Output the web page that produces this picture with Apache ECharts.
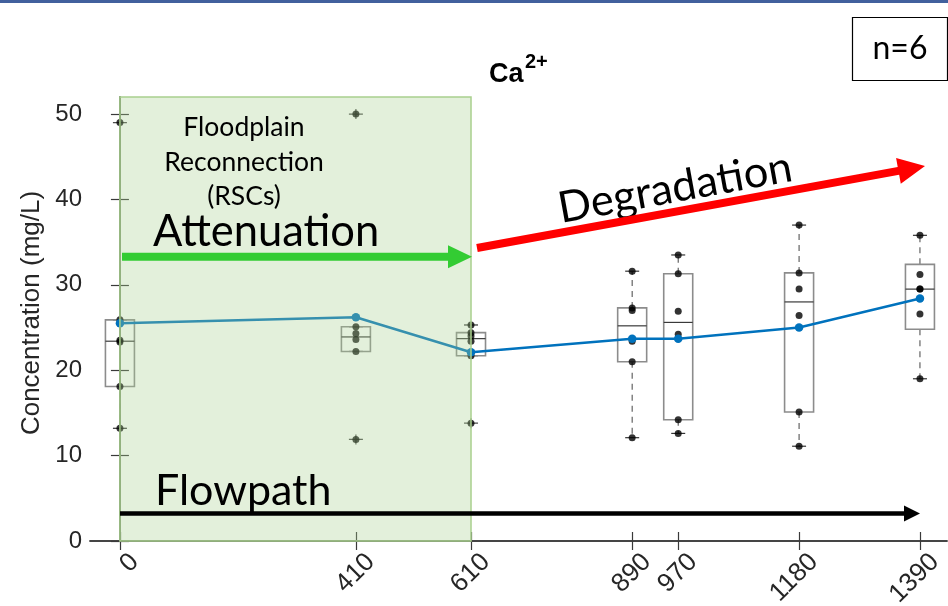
<!DOCTYPE html>
<html>
<head>
<meta charset="utf-8">
<title>Ca2+ along the flowpath</title>
<script src="https://cdn.jsdelivr.net/npm/echarts@6/dist/echarts.min.js"></script>
<style>
  html, body { margin: 0; padding: 0; background: #ffffff; }
  #chart { width: 948px; height: 606px; }
</style>
</head>
<body>
<div id="chart"></div>
<script>
// Sampling stations along the flowpath (m)
const stations = [0, 410, 610, 890, 970, 1180, 1390];
const stationLabels = ['0', '410', '610', '890', '970', '1180', '1390'];

// Box statistics per station (mg/L)
const whiskerLow  = [13.2, 22.2, 21.7, 12.1, 12.6, 11.1, 19.0];
const quartile1   = [18.1, 22.2, 21.7, 21.0, 14.2, 15.1, 24.8];
const medians     = [23.4, 23.9, 23.7, 25.2, 25.6, 28.0, 29.5];
const quartile3   = [25.9, 25.1, 24.4, 27.3, 31.3, 31.4, 32.4];
const whiskerHigh = [25.9, 25.1, 25.3, 31.6, 33.5, 37.0, 35.8];

// Outliers beyond the whiskers
const outlierStations = [0, 410, 410, 610];
const outlierValues   = [49.0, 50.0, 11.9, 13.8];

// Individual samples (n = 6 per station)
const samples = [
  [49.0, 25.9, 23.5, 23.3, 18.1, 13.2],
  [50.0, 25.1, 24.3, 23.6, 22.2, 11.9],
  [25.3, 24.4, 24.0, 23.4, 21.7, 13.8],
  [31.6, 27.3, 27.0, 23.4, 21.0, 12.1],
  [33.5, 31.3, 26.9, 24.2, 14.2, 12.6],
  [37.0, 31.4, 29.5, 26.4, 15.1, 11.1],
  [35.8, 31.2, 29.5, 29.5, 26.6, 19.0]
];

// Station means
const means = [25.5, 26.2, 22.1, 23.7, 23.7, 25.0, 28.4];

// Reconnected floodplain reach (m)
const reconnectionReach = [0, 610];

// Axis settings
const xRange = [-52, 1437];
const yRange = [0, 52];
const yTicks = [0, 10, 20, 30, 40, 50];

const boxData = stations.map((s, i) => [s, whiskerLow[i], quartile1[i], medians[i], quartile3[i], whiskerHigh[i]]);
const sampleData = [];
samples.forEach((vals, i) => vals.forEach(v => sampleData.push([stations[i], v])));
const outlierData = outlierStations.map((s, i) => [s, outlierValues[i]]);
const meanData = stations.map((s, i) => [s, means[i]]);

const axisColor = '#3a3a3a';
const labelColor = '#262626';

function renderBox(params, api) {
  const s = api.value(0);
  const xc = api.coord([s, api.value(1)])[0];
  const yWl = api.coord([s, api.value(1)])[1];
  const yQ1 = api.coord([s, api.value(2)])[1];
  const yMed = api.coord([s, api.value(3)])[1];
  const yQ3 = api.coord([s, api.value(4)])[1];
  const yWh = api.coord([s, api.value(5)])[1];
  const hw = 14.5, cap = 7;
  const dash = { stroke: '#555555', lineWidth: 1.1, lineDash: [6, 5] };
  const capStyle = { stroke: '#333333', lineWidth: 1.2 };
  return {
    type: 'group',
    children: [
      { type: 'line', shape: { x1: xc, y1: yQ3, x2: xc, y2: yWh }, style: dash },
      { type: 'line', shape: { x1: xc, y1: yQ1, x2: xc, y2: yWl }, style: dash },
      { type: 'line', shape: { x1: xc - cap, y1: yWh, x2: xc + cap, y2: yWh }, style: capStyle },
      { type: 'line', shape: { x1: xc - cap, y1: yWl, x2: xc + cap, y2: yWl }, style: capStyle },
      { type: 'rect', shape: { x: xc - hw, y: yQ3, width: 2 * hw, height: yQ1 - yQ3 },
        style: { fill: 'none', stroke: '#8c8c8c', lineWidth: 1.6 } },
      { type: 'line', shape: { x1: xc - hw, y1: yMed, x2: xc + hw, y2: yMed },
        style: { stroke: '#3a3a3a', lineWidth: 1.2 } }
    ]
  };
}

function renderReach(params, api) {
  const cs = params.coordSys;
  const x0 = api.coord([api.value(0), 0])[0];
  const x1 = api.coord([api.value(1), 0])[0];
  return {
    type: 'rect',
    shape: { x: x0, y: cs.y, width: x1 - x0, height: cs.height },
    style: { fill: 'rgba(169,208,142,0.32)', stroke: '#A9D08E', lineWidth: 1.5 }
  };
}

function arrow(x1, y1, x2, y2, thick, headLen, headHalf, color) {
  const dx = x2 - x1, dy = y2 - y1, L = Math.hypot(dx, dy);
  const ux = dx / L, uy = dy / L, nx = -uy, ny = ux;
  const bx = x2 - ux * headLen, by = y2 - uy * headLen, t = thick / 2;
  return {
    type: 'polygon', z: 100, silent: true,
    shape: { points: [
      [x1 + nx * t, y1 + ny * t], [bx + nx * t, by + ny * t], [bx + nx * headHalf, by + ny * headHalf],
      [x2, y2], [bx - nx * headHalf, by - ny * headHalf], [bx - nx * t, by - ny * t], [x1 - nx * t, y1 - ny * t]
    ] },
    style: { fill: color }
  };
}

const noteFont = 'Lato, "Open Sans", sans-serif';

const chart = echarts.init(document.getElementById('chart'), null, { renderer: 'canvas' });
chart.setOption({
  animation: false,
  backgroundColor: '#ffffff',
  textStyle: { fontFamily: '"Liberation Sans", Arial, sans-serif' },
  grid: { left: 90, right: 1, top: 97, bottom: 65, containLabel: false, outerBoundsMode: 'none' },
  xAxis: [
    {
      type: 'value', min: xRange[0], max: xRange[1], position: 'bottom',
      axisLine: { lineStyle: { color: axisColor, width: 1.5 } },
      axisTick: { inside: true, length: 9, customValues: stations, lineStyle: { color: axisColor, width: 1.2 } },
      axisLabel: {
        customValues: stations, rotate: 45, margin: 2, fontSize: 26, color: labelColor,
        verticalAlign: 'top', padding: [8, 0, 0, 0],
        formatter: v => stationLabels[stations.indexOf(v)]
      },
      splitLine: { show: false }
    },
    {
      type: 'value', min: xRange[0], max: xRange[1], position: 'top',
      axisLine: { lineStyle: { color: axisColor, width: 1.5 } },
      axisTick: { inside: true, length: 9, customValues: stations, lineStyle: { color: axisColor, width: 1.2 } },
      axisLabel: { show: false },
      splitLine: { show: false }
    }
  ],
  yAxis: [
    {
      type: 'value', min: yRange[0], max: yRange[1], position: 'left',
      name: 'Concentration (mg/L)', nameLocation: 'middle', nameGap: 43,
      nameTextStyle: { fontSize: 26, color: labelColor, padding: [0, 0, 0, 12] },
      axisLine: { show: true, lineStyle: { color: axisColor, width: 1.5 } },
      axisTick: { show: true, inside: true, length: 9, customValues: yTicks, lineStyle: { color: axisColor, width: 1.2 } },
      axisLabel: { customValues: yTicks, margin: 8, fontSize: 24, color: labelColor },
      splitLine: { show: false }
    },
    {
      type: 'value', min: yRange[0], max: yRange[1], position: 'right',
      axisLine: { show: true, lineStyle: { color: axisColor, width: 1.5 } },
      axisTick: { show: true, inside: true, length: 9, customValues: yTicks, lineStyle: { color: axisColor, width: 1.2 } },
      axisLabel: { show: false },
      splitLine: { show: false }
    }
  ],
  series: [
    {
      type: 'custom', name: 'boxes', z: 2, silent: true,
      renderItem: renderBox,
      encode: { x: 0, y: [1, 2, 3, 4, 5] },
      data: boxData
    },
    {
      type: 'scatter', name: 'outliers', z: 3, silent: true,
      symbol: 'path://M0,4.4h14v1.2h-14z M6.4,0h1.2v10h-1.2z',
      symbolSize: [14, 10],
      itemStyle: { color: '#222222' },
      data: outlierData
    },
    {
      type: 'scatter', name: 'samples', z: 4, silent: true,
      symbol: 'circle', symbolSize: 7,
      itemStyle: { color: '#000000' },
      data: sampleData
    },
    {
      type: 'line', name: 'mean', z: 5, silent: true,
      symbol: 'circle', symbolSize: 8.5,
      lineStyle: { color: '#0072BD', width: 2.5 },
      itemStyle: { color: '#0072BD' },
      data: meanData
    },
    {
      type: 'custom', name: 'reach', z: 10, silent: true,
      renderItem: renderReach,
      encode: { x: [0, 1] },
      data: [reconnectionReach]
    }
  ],
  graphic: [
    { type: 'rect', z: 100, silent: true, shape: { x: 0, y: 0, width: 948, height: 3 }, style: { fill: '#41609d' } },
    // title
    { type: 'text', z: 100, silent: true, style: { x: 489, y: 75, text: 'Ca', font: 'bold 27px "Liberation Sans", Arial, sans-serif', fill: '#000', verticalAlign: 'middle', align: 'left' } },
    { type: 'text', z: 100, silent: true, style: { x: 525, y: 62, text: '2+', font: 'bold 20px "Liberation Sans", Arial, sans-serif', fill: '#000', verticalAlign: 'middle', align: 'left' } },
    // sample count box
    { type: 'rect', z: 100, silent: true, shape: { x: 852.5, y: 17.5, width: 95, height: 63 }, style: { fill: '#fff', stroke: '#000', lineWidth: 1.2 } },
    { type: 'text', z: 101, silent: true, style: { x: 900, y: 49, text: 'n=6', font: '32px ' + noteFont, fill: '#000', align: 'center', verticalAlign: 'middle' } },
    // annotations
    { type: 'text', z: 100, silent: true, style: { x: 244, y: 162, text: 'Floodplain\nReconnection\n(RSCs)', font: '26.5px ' + noteFont, lineHeight: 34.5, fill: '#000', align: 'center', verticalAlign: 'middle' } },
    { type: 'text', z: 100, silent: true, style: { x: 153, y: 231.5, text: 'Attenuation', font: '43.5px ' + noteFont, fill: '#000', align: 'left', verticalAlign: 'middle' } },
    arrow(122, 256.7, 472, 256.7, 8, 24, 11.5, '#33CC33'),
    { type: 'text', z: 100, silent: true, rotation: 0.18, x: 675, y: 188, style: { x: 0, y: 0, text: 'Degradation', font: '43.5px ' + noteFont, fill: '#000', align: 'center', verticalAlign: 'middle' } },
    arrow(477, 248, 925, 166, 8, 27, 13, '#FF0000'),
    { type: 'text', z: 100, silent: true, style: { x: 155, y: 491, text: 'Flowpath', font: '43px ' + noteFont, fill: '#000', align: 'left', verticalAlign: 'middle' } },
    arrow(120, 513.5, 920, 513.5, 4.5, 16, 8, '#000000')
  ]
});
</script>
</body>
</html>
